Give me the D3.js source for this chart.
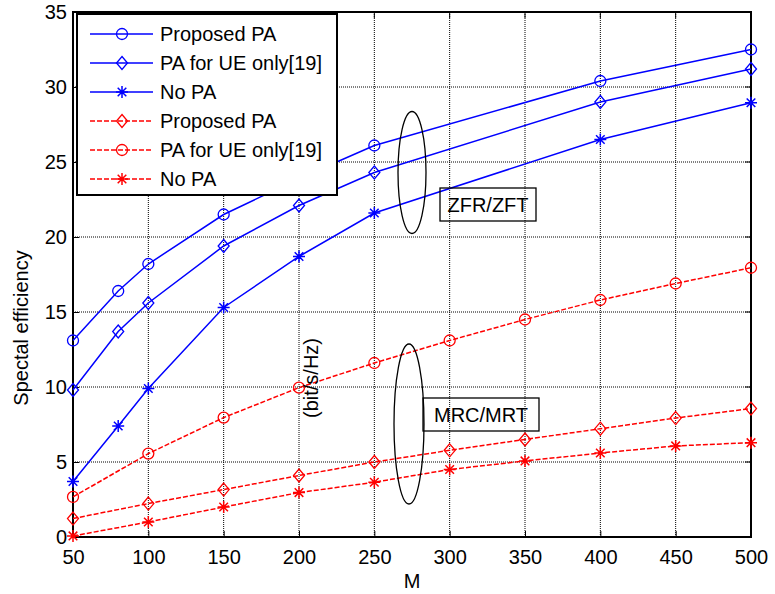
<!DOCTYPE html>
<html>
<head>
<meta charset="utf-8">
<script src="https://cdn.jsdelivr.net/npm/d3@7"></script>
<style>
  body { margin: 0; background: #fff; }
  text { font-family: "Liberation Sans", Arial, sans-serif; }
</style>
</head>
<body>
<svg width="775" height="594"></svg>
<script>
// blue curves (ZFR/ZFT), solid
const mBlue = [50, 80, 100, 150, 200, 250, 400, 500];
const zfProposed = [13.1, 16.4, 18.2, 21.5, 23.9, 26.1, 30.4, 32.5];
const zfUeOnly = [9.8, 13.7, 15.6, 19.4, 22.1, 24.3, 29.0, 31.2];
const zfNoPa = [3.7, 7.4, 9.9, 15.3, 18.7, 21.6, 26.5, 28.95];

// red curves (MRC/MRT), dashed
const mRed = [50, 100, 150, 200, 250, 300, 350, 400, 450, 500];
const mrProposed = [1.23, 2.23, 3.16, 4.1, 5.0, 5.78, 6.5, 7.22, 7.93, 8.56];
const mrUeOnly = [2.67, 5.56, 7.96, 9.96, 11.6, 13.1, 14.5, 15.8, 16.9, 17.95];
const mrNoPa = [0.07, 1.0, 2.0, 2.96, 3.65, 4.5, 5.07, 5.6, 6.07, 6.29];

const xTicks = [50, 100, 150, 200, 250, 300, 350, 400, 450, 500];
const yTicks = [0, 5, 10, 15, 20, 25, 30, 35];

const series = [
  {name: 'Proposed PA', xs: mBlue, ys: zfProposed, color: 'blue', marker: 'circle', dash: null},
  {name: 'PA for UE only[19]', xs: mBlue, ys: zfUeOnly, color: 'blue', marker: 'diamond', dash: null},
  {name: 'No PA', xs: mBlue, ys: zfNoPa, color: 'blue', marker: 'star', dash: null},
  {name: 'Proposed PA', xs: mRed, ys: mrProposed, color: 'red', marker: 'diamond', dash: '5,2'},
  {name: 'PA for UE only[19]', xs: mRed, ys: mrUeOnly, color: 'red', marker: 'circle', dash: '5,2'},
  {name: 'No PA', xs: mRed, ys: mrNoPa, color: 'red', marker: 'star', dash: '5,2'}
];

const svg = d3.select('svg');
const pLeft = 73, pRight = 751, pTop = 12, pBottom = 537;
const fs = 20;

const x = d3.scaleLinear().domain([50, 500]).range([pLeft, pRight]);
const y = d3.scaleLinear().domain([0, 35]).range([pBottom, pTop]);

// grid
const grid = svg.append('g')
  .attr('stroke', '#000').attr('stroke-width', 1).attr('stroke-dasharray', '1,1');
grid.selectAll('.gx').data(xTicks.slice(1, -1)).join('line').attr('class', 'gx')
  .attr('x1', d => x(d)).attr('x2', d => x(d)).attr('y1', pTop).attr('y2', pBottom);
grid.selectAll('.gy').data(yTicks.slice(1, -1)).join('line').attr('class', 'gy')
  .attr('y1', d => y(d)).attr('y2', d => y(d)).attr('x1', pLeft).attr('x2', pRight);

// axes
const xAxis = d3.axisBottom(x).tickValues(xTicks).tickSizeInner(-6).tickSizeOuter(0).tickPadding(13);
const yAxis = d3.axisLeft(y).tickValues(yTicks).tickSizeInner(-6).tickSizeOuter(0).tickPadding(6);

const gx = svg.append('g').attr('transform', `translate(0,${pBottom})`).call(xAxis);
const gy = svg.append('g').attr('transform', `translate(${pLeft},0)`).call(yAxis);
[gx, gy].forEach(g => {
  g.select('.domain').remove();
  g.selectAll('line').attr('stroke', '#000');
  g.selectAll('text').attr('font-size', fs).attr('fill', '#000')
    .attr('font-family', '"Liberation Sans", Arial, sans-serif');
});
gy.selectAll('text').attr('x', -6);
// top and right ticks
svg.append('g').selectAll('line').data(xTicks).join('line')
  .attr('x1', d => x(d)).attr('x2', d => x(d)).attr('y1', pTop).attr('y2', pTop + 6).attr('stroke', '#000');
svg.append('g').selectAll('line').data(yTicks).join('line')
  .attr('x1', pRight).attr('x2', pRight - 6).attr('y1', d => y(d)).attr('y2', d => y(d)).attr('stroke', '#000');

svg.append('rect').attr('x', pLeft).attr('y', pTop).attr('width', pRight - pLeft).attr('height', pBottom - pTop)
  .attr('fill', 'none').attr('stroke', '#000').attr('stroke-width', 2);

// marker drawing
function drawMarker(g, type, color) {
  if (type === 'circle') {
    g.append('circle').attr('r', 5.5).attr('fill', 'none').attr('stroke', color).attr('stroke-width', 1.3);
  } else if (type === 'diamond') {
    g.append('path').attr('d', 'M0,-6.5L5.5,0L0,6.5L-5.5,0Z')
      .attr('fill', 'none').attr('stroke', color).attr('stroke-width', 1.3);
  } else {
    g.append('path').attr('d', 'M-6,0H6M0,-6V6M-4.3,-4.3L4.3,4.3M-4.3,4.3L4.3,-4.3')
      .attr('fill', 'none').attr('stroke', color).attr('stroke-width', 1.5);
  }
}

const line = d3.line().x(d => x(d[0])).y(d => y(d[1]));

series.forEach(s => {
  const pts = s.xs.map((m, i) => [m, s.ys[i]]);
  svg.append('path').attr('d', line(pts))
    .attr('fill', 'none').attr('stroke', s.color).attr('stroke-width', 1.5)
    .attr('stroke-dasharray', s.dash);
  pts.forEach(p => {
    const g = svg.append('g').attr('transform', `translate(${x(p[0])},${y(p[1])})`);
    drawMarker(g, s.marker, s.color);
  });
});

// legend
const lg = svg.append('g').attr('transform', 'translate(77,14)');
lg.append('rect').attr('width', 260).attr('height', 181)
  .attr('fill', '#fff').attr('stroke', '#000').attr('stroke-width', 2);
series.forEach((s, i) => {
  const ry = 20 + i * 29;
  lg.append('line').attr('x1', 13).attr('x2', 76).attr('y1', ry).attr('y2', ry)
    .attr('stroke', s.color).attr('stroke-width', 1.5).attr('stroke-dasharray', s.dash);
  drawMarker(lg.append('g').attr('transform', `translate(45,${ry})`), s.marker, s.color);
  lg.append('text').attr('x', 83).attr('y', ry + 7).attr('font-size', fs).text(s.name);
});

// annotations
svg.append('ellipse').attr('cx', 412).attr('cy', 172.5).attr('rx', 14).attr('ry', 61)
  .attr('fill', 'none').attr('stroke', '#000').attr('stroke-width', 1.3);
svg.append('rect').attr('x', 440).attr('y', 188).attr('width', 96).attr('height', 33)
  .attr('fill', 'none').attr('stroke', '#000').attr('stroke-width', 1.3);
svg.append('text').attr('x', 488).attr('y', 212).attr('text-anchor', 'middle').attr('font-size', fs).text('ZFR/ZFT');

svg.append('ellipse').attr('cx', 409).attr('cy', 424).attr('rx', 15).attr('ry', 80)
  .attr('fill', 'none').attr('stroke', '#000').attr('stroke-width', 1.3);
svg.append('rect').attr('x', 423).attr('y', 398).attr('width', 116).attr('height', 33)
  .attr('fill', 'none').attr('stroke', '#000').attr('stroke-width', 1.3);
svg.append('text').attr('x', 481).attr('y', 422).attr('text-anchor', 'middle').attr('font-size', fs).text('MRC/MRT');

svg.append('text').attr('transform', 'translate(318,378) rotate(-90)')
  .attr('text-anchor', 'middle').attr('font-size', fs).text('(bit/s/Hz)');

// axis labels
svg.append('text').attr('transform', 'translate(28,328) rotate(-90)')
  .attr('text-anchor', 'middle').attr('font-size', fs).text('Spectal efficiency');
svg.append('text').attr('x', 412).attr('y', 588).attr('text-anchor', 'middle').attr('font-size', fs).text('M');
</script>
</body>
</html>
